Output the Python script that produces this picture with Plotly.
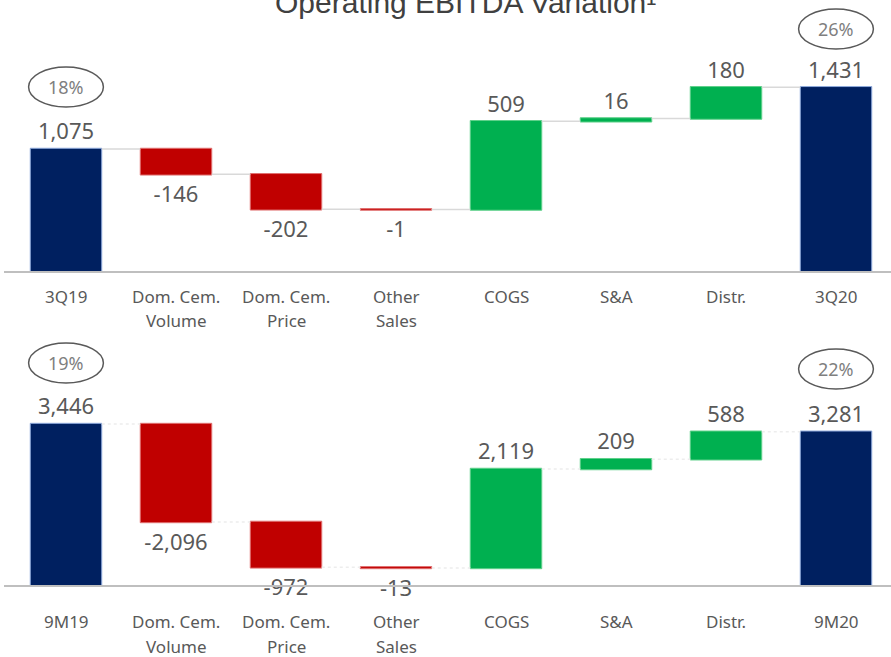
import plotly.graph_objects as go

# ---------------- data ----------------
categories_q = ["3Q19", "Dom. Cem.\nVolume", "Dom. Cem.\nPrice", "Other\nSales",
                "COGS", "S&A", "Distr.", "3Q20"]
values_q = [1075, -146, -202, -1, 509, 16, 180, 1431]
margin_q = ["18%", "26%"]

categories_9m = ["9M19", "Dom. Cem.\nVolume", "Dom. Cem.\nPrice", "Other\nSales",
                 "COGS", "S&A", "Distr.", "9M20"]
values_9m = [3446, -2096, -972, -13, 2119, 209, 588, 3281]
margin_9m = ["19%", "22%"]

measures = ["absolute", "relative", "relative", "relative",
            "relative", "relative", "relative", "absolute"]

title_text = "Operating EBITDA Variation¹"

# ---------------- styling ----------------
W, H = 891, 657
NAVY, RED, GREEN = "#002060", "#C00000", "#00B050"
GRAY_TXT = "#595959"
FONT = "Noto Sans"


def py(p):
    """pixel row -> paper y (margins t=b=0)"""
    return (H - p) / H


xs = list(range(len(categories_q)))


def wf(vals, xa, ya, conn_color, conn_dash):
    return go.Waterfall(
        x=xs, y=vals, measure=measures,
        text=[f"{v:,}" for v in vals],
        textposition="outside",
        textfont=dict(family=FONT, size=22, color=GRAY_TXT),
        cliponaxis=False,
        width=0.65,
        increasing=dict(marker=dict(color=GREEN, line=dict(color="#5fd08a", width=1))),
        decreasing=dict(marker=dict(color=RED, line=dict(color="#e07070", width=1))),
        totals=dict(marker=dict(color=NAVY, line=dict(color="#8faadc", width=1))),
        connector=dict(line=dict(color=conn_color, width=1.5, dash=conn_dash)),
        xaxis=xa, yaxis=ya, showlegend=False, hoverinfo="skip",
    )


fig = go.Figure()
fig.add_trace(wf(values_q, "x", "y", "#d9d9d9", "solid"))
fig.add_trace(wf(values_9m, "x2", "y2", "#ededed", "dot"))

xrange = [-0.5 - 7 / 110, 7.5]
xcommon = dict(range=xrange, showline=True, linecolor="#bfbfbf", linewidth=1.5,
               showticklabels=False, ticks="", showgrid=False, zeroline=False,
               fixedrange=True)
ycommon = dict(visible=False, showgrid=False, zeroline=False, fixedrange=True)

fig.update_layout(
    width=W, height=H, autosize=False,
    margin=dict(l=4, r=0, t=0, b=0),
    paper_bgcolor="white", plot_bgcolor="white",
    xaxis=dict(domain=[0, 1], anchor="y", **xcommon),
    yaxis=dict(domain=[py(271), py(40)], range=[371, 1704], **ycommon),
    xaxis2=dict(domain=[0, 1], anchor="y2", **xcommon),
    yaxis2=dict(domain=[py(585), py(360)], range=[0, 4818], **ycommon),
)

annotations = []
shapes = []

# category labels (two lines each)
for xa, cats, row1, row2 in (("x", categories_q, 296, 320), ("x2", categories_9m, 621, 646)):
    for i, c in enumerate(cats):
        lines = c.split("\n")
        for line, row in zip(lines, (row1, row2)):
            annotations.append(dict(
                x=i, xref=xa, y=py(row), yref="paper", text=line, showarrow=False,
                xanchor="center", yanchor="middle",
                font=dict(family=FONT, size=17, color=GRAY_TXT)))

# margin ellipses
for xa, pcts, centers in (("x", margin_q, (87, 29)), ("x2", margin_9m, (363, 369))):
    for idx, pct, cy in zip((0, 7), pcts, centers):
        shapes.append(dict(type="circle", xref=xa, yref="paper",
                           x0=idx - 0.34, x1=idx + 0.34,
                           y0=py(cy + 20), y1=py(cy - 20),
                           line=dict(color="#595959", width=1.5)))
        annotations.append(dict(
            x=idx, xref=xa, y=py(cy), yref="paper", text=pct, showarrow=False,
            xanchor="center", yanchor="middle",
            font=dict(family=FONT, size=18, color="#7f7f7f")))

# title (partially cut at top as in the reference)
annotations.append(dict(
    x=(466 - 4) / 887, xref="paper", y=py(2), yref="paper", text=title_text,
    showarrow=False, xanchor="center", yanchor="middle",
    font=dict(family="Liberation Sans", size=30, color="#404040")))

fig.update_layout(annotations=annotations, shapes=shapes)

fig.write_html("out.html", config={"displayModeBar": False},
               post_script="document.body.style.margin='0';document.body.style.overflow='hidden';")
